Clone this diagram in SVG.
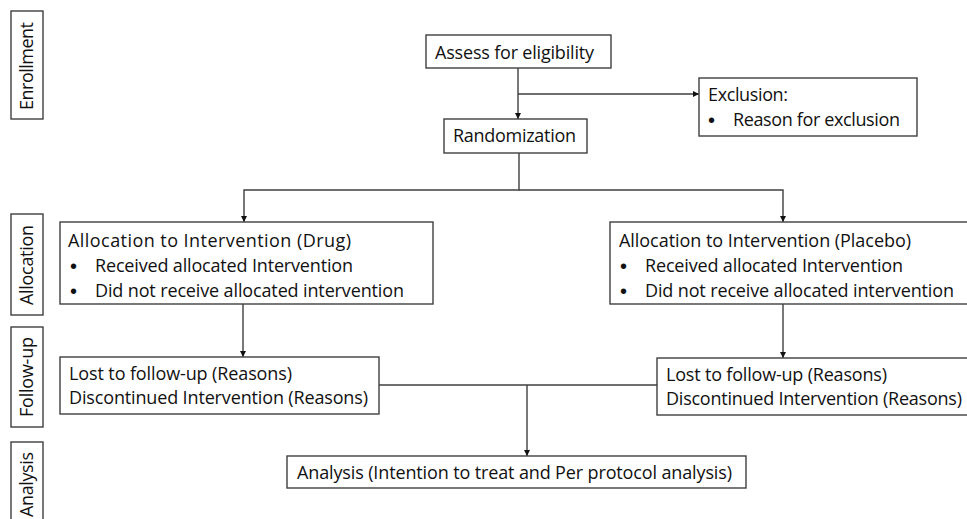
<svg xmlns="http://www.w3.org/2000/svg" width="967" height="519" viewBox="0 0 967 519">
<style>
  .box { fill: #ffffff; stroke: #3f3f3f; stroke-width: 1.4; }
  .lbl { fill: #ffffff; stroke: #3f3f3f; stroke-width: 1.4; }
  .t { font-family: "Open Sans", "Liberation Sans", sans-serif; font-size: 18px; fill: #111111; }
  .b { font-family: "Liberation Sans", sans-serif; font-size: 20px; fill: #111111; }
  .conn { fill: none; stroke: #3f3f3f; stroke-width: 1.4; }
</style>
<defs>
  <marker id="arrow" markerUnits="userSpaceOnUse" markerWidth="8" markerHeight="8" refX="6" refY="3" orient="auto">
    <path d="M0,0 L6,3 L0,6 z" fill="#111111"/>
  </marker>
</defs>
<rect width="967" height="519" fill="#ffffff"/>

<g id="label-enrollment">
  <rect class="lbl" x="11" y="11" width="32" height="108"/>
  <text class="t" transform="translate(33,66) rotate(-90)" text-anchor="middle" textLength="88">Enrollment</text>
</g>
<g id="label-allocation">
  <rect class="lbl" x="11" y="214" width="32" height="101"/>
  <text class="t" transform="translate(33,265) rotate(-90)" text-anchor="middle" textLength="80">Allocation</text>
</g>
<g id="label-followup">
  <rect class="lbl" x="11" y="327" width="32" height="100"/>
  <text class="t" transform="translate(33,377) rotate(-90)" text-anchor="middle" textLength="80">Follow-up</text>
</g>
<g id="label-analysis">
  <rect class="lbl" x="11" y="442" width="32" height="100"/>
  <text class="t" transform="translate(33,517) rotate(-90)" textLength="65">Analysis</text>
</g>

<g id="connectors">
  <path class="conn" d="M518,68 V119" marker-end="url(#arrow)"/>
  <path class="conn" d="M518,94 H699" marker-end="url(#arrow)"/>
  <path class="conn" d="M519,153 V190 H244 V222" marker-end="url(#arrow)"/>
  <path class="conn" d="M519,190 H783 V222" marker-end="url(#arrow)"/>
  <path class="conn" d="M243,304 V357" marker-end="url(#arrow)"/>
  <path class="conn" d="M783,304 V358" marker-end="url(#arrow)"/>
  <path class="conn" d="M379,385 H657"/>
  <path class="conn" d="M527,385 V456" marker-end="url(#arrow)"/>
</g>

<g id="assess">
  <rect class="box" x="426" y="35" width="185" height="33"/>
  <text class="t" x="435" y="59" textLength="159">Assess for eligibility</text>
</g>
<g id="exclusion">
  <rect class="box" x="699" y="78" width="218" height="58"/>
  <text class="t" x="708" y="101" textLength="80">Exclusion:</text>
  <text class="b" x="708" y="127">•</text>
  <text class="t" x="733" y="126" textLength="167">Reason for exclusion</text>
</g>
<g id="randomization">
  <rect class="box" x="444" y="119" width="143" height="34"/>
  <text class="t" x="453" y="142" textLength="123">Randomization</text>
</g>
<g id="allocation-drug">
  <rect class="box" x="60" y="222" width="373" height="82"/>
  <text class="t" x="68" y="247" textLength="283">Allocation to Intervention (Drug)</text>
  <text class="b" x="70" y="273">•</text>
  <text class="t" x="95" y="272" textLength="258">Received allocated Intervention</text>
  <text class="b" x="70" y="298">•</text>
  <text class="t" x="95" y="297" textLength="309">Did not receive allocated intervention</text>
</g>
<g id="allocation-placebo">
  <rect class="box" x="610" y="222" width="370" height="82"/>
  <text class="t" x="619" y="247" textLength="292">Allocation to Intervention (Placebo)</text>
  <text class="b" x="620" y="273">•</text>
  <text class="t" x="645" y="272" textLength="258">Received allocated Intervention</text>
  <text class="b" x="620" y="298">•</text>
  <text class="t" x="645" y="297" textLength="309">Did not receive allocated intervention</text>
</g>
<g id="followup-drug">
  <rect class="box" x="60" y="357" width="319" height="57"/>
  <text class="t" x="69" y="380" textLength="223">Lost to follow-up (Reasons)</text>
  <text class="t" x="69" y="404" textLength="299">Discontinued Intervention (Reasons)</text>
</g>
<g id="followup-placebo">
  <rect class="box" x="657" y="358" width="320" height="57"/>
  <text class="t" x="666" y="381" textLength="221">Lost to follow-up (Reasons)</text>
  <text class="t" x="666" y="405" textLength="296">Discontinued Intervention (Reasons)</text>
</g>
<g id="analysis">
  <rect class="box" x="287" y="456" width="459" height="32"/>
  <text class="t" x="297" y="479" textLength="435">Analysis (Intention to treat and Per protocol analysis)</text>
</g>
</svg>
